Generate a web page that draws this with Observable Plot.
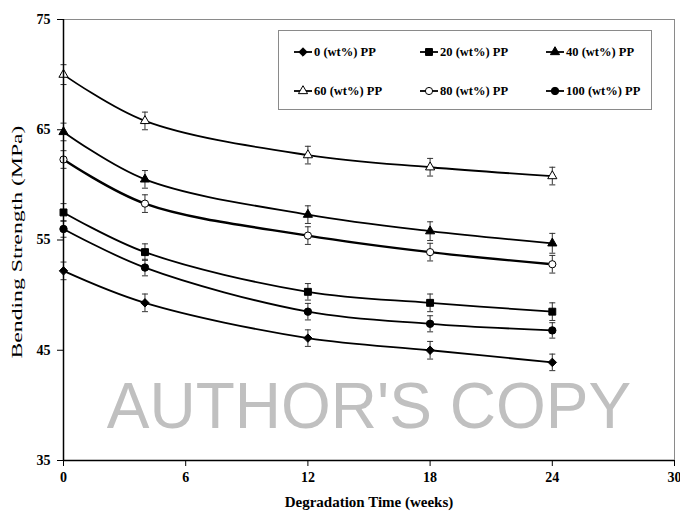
<!DOCTYPE html>
<html><head><meta charset="utf-8">
<script src="https://cdn.jsdelivr.net/npm/d3@7"></script>
<script src="https://cdn.jsdelivr.net/npm/@observablehq/plot@0.6"></script>
<style>
body{margin:0;background:#fff;}
#wrap{position:relative;width:680px;height:514px;}
#legend{position:absolute;left:278px;top:30px;width:374px;height:80px;border:1px solid #8a8a8a;box-sizing:border-box;font-family:"Liberation Serif",serif;font-weight:bold;font-size:12.5px;background:#fff;}
.item{position:absolute;display:flex;align-items:center;white-space:nowrap;height:16px;}
.item svg{margin-right:2px;}
</style></head><body><div id="wrap"></div>
<script>
// ---- data ----
const weeks = [0, 4, 12, 18, 24];
const seriesNames = ["0 (wt%) PP", "20 (wt%) PP", "40 (wt%) PP", "60 (wt%) PP", "80 (wt%) PP", "100 (wt%) PP"];
const pp0   = [52.2, 49.3, 46.1, 45.0, 43.9];
const pp20  = [57.5, 53.9, 50.3, 49.3, 48.5];
const pp40  = [64.8, 60.5, 57.3, 55.8, 54.7];
const pp60  = [70.0, 65.8, 62.7, 61.6, 60.8];
const pp80  = [62.3, 58.3, 55.4, 53.9, 52.8];
const pp100 = [56.0, 52.5, 48.5, 47.4, 46.8];
const err0   = [0.8, 0.8, 0.75, 0.8, 0.75];
const err20  = [0.8, 0.75, 0.75, 0.8, 0.8];
const err40  = [0.8, 0.8, 0.8, 0.85, 0.9];
const err60  = [0.9, 0.8, 0.8, 0.8, 0.8];
const err80  = [0.8, 0.8, 0.8, 0.8, 0.8];
const err100 = [0.75, 0.75, 0.75, 0.73, 0.7];
const xTicks = [0, 6, 12, 18, 24, 30];
const yTicks = [35, 45, 55, 65, 75];
const xTitle = "Degradation Time (weeks)";
const yTitle = "Bending Strength (MPa)";
const watermark = "AUTHOR'S COPY";

// ---- styles ----
const values = [pp0, pp20, pp40, pp60, pp80, pp100];
const errors = [err0, err20, err40, err60, err80, err100];
const styles = [
  {symbol: "diamond2", d3s: d3.symbolDiamond2, fill: "black", r: 3.8, lw: 1.8},
  {symbol: "square", d3s: d3.symbolSquare, fill: "black", r: 3.9, lw: 1.8},
  {symbol: "triangle", d3s: d3.symbolTriangle, fill: "black", r: 3.4, lw: 1.8},
  {symbol: "triangle", d3s: d3.symbolTriangle, fill: "white", r: 3.4, lw: 1.8},
  {symbol: "circle", d3s: d3.symbolCircle, fill: "white", r: 3.6, lw: 2.4},
  {symbol: "circle", d3s: d3.symbolCircle, fill: "black", r: 3.7, lw: 1.8}
];

const rows = [];
seriesNames.forEach((s, i) => weeks.forEach((w, j) => rows.push({series: s, idx: i, week: w, value: values[i][j], err: errors[i][j]})));

const cap = {draw(ctx) { ctx.moveTo(-3, 0); ctx.lineTo(3, 0); }};

const lineMarks = seriesNames.map((s, i) => Plot.line(rows.filter(d => d.idx === i), {
  x: "week", y: "value", curve: "catmull-rom", stroke: "black", strokeWidth: styles[i].lw
}));
const dotMarks = seriesNames.map((s, i) => Plot.dot(rows.filter(d => d.idx === i), {
  x: "week", y: "value", symbol: styles[i].symbol, r: styles[i].r,
  fill: styles[i].fill, stroke: "black", strokeWidth: 1
}));

const chart = Plot.plot({
  width: 680, height: 514,
  marginLeft: 63, marginRight: 6, marginTop: 19, marginBottom: 54,
  x: {domain: [0, 30]},
  y: {domain: [35, 75]},
  style: {fontFamily: "Liberation Serif", fontSize: "14px", fontWeight: "bold", background: "white", color: "black"},
  marks: [
    Plot.frame({stroke: "#8a8a8a"}),
    Plot.text([watermark], {frameAnchor: "bottom", lineAnchor: "bottom", dy: -33, fontSize: 64, fontFamily: "Liberation Sans", fontWeight: "normal", fill: "#c0c0c0"}),
    Plot.ruleX(rows, {x: "week", y1: d => d.value - d.err, y2: d => d.value + d.err, stroke: "#333", strokeWidth: 1}),
    Plot.dot(rows, {x: "week", y: d => d.value + d.err, symbol: cap, fill: "none", stroke: "#333", strokeWidth: 1}),
    Plot.dot(rows, {x: "week", y: d => d.value - d.err, symbol: cap, fill: "none", stroke: "#333", strokeWidth: 1}),
    ...lineMarks,
    ...dotMarks,
    Plot.axisX({ticks: xTicks, tickSize: 6, tickPadding: 6, label: null, tickFormat: d => String(d)}),
    Plot.axisY({ticks: yTicks, tickSize: 6, tickPadding: 7, label: null, tickFormat: d => String(d)}),
    Plot.ruleX([0], {stroke: "black", strokeWidth: 1.5}),
    Plot.ruleY([35], {stroke: "black", strokeWidth: 1.5}),
    Plot.text([xTitle], {frameAnchor: "bottom", dy: 46, fontSize: 15, fontWeight: "bold"}),
    Plot.text([yTitle], {frameAnchor: "left", textAnchor: "middle", dx: -46, dy: 2, rotate: -90, fontSize: 15, fontWeight: "normal"})
  ]
});

const wrap = document.getElementById("wrap");
wrap.appendChild(chart);
chart.querySelectorAll("text").forEach(t => {
  if (t.textContent === yTitle) {
    const tr = t.getAttribute("transform") || "";
    t.setAttribute("transform", tr + " scale(1.58,1)");
  }
});

// legend
const legend = document.createElement("div");
legend.id = "legend";
const cols = [15, 141, 267], rowsY = [13, 52];
seriesNames.forEach((s, i) => {
  const item = document.createElement("div");
  item.className = "item";
  item.style.left = cols[i % 3] + "px";
  item.style.top = rowsY[Math.floor(i / 3)] + "px";
  const svg = d3.create("svg").attr("width", 18).attr("height", 12);
  svg.append("line").attr("x1", 0).attr("x2", 18).attr("y1", 6).attr("y2", 6).attr("stroke", "black").attr("stroke-width", 1.8);
  svg.append("path").attr("transform", "translate(9,6)")
    .attr("d", d3.symbol(styles[i].d3s, Math.PI * styles[i].r * styles[i].r)())
    .attr("fill", styles[i].fill).attr("stroke", "black");
  item.appendChild(svg.node());
  const span = document.createElement("span");
  span.textContent = s;
  item.appendChild(span);
  legend.appendChild(item);
});
wrap.appendChild(legend);
</script></body></html>
